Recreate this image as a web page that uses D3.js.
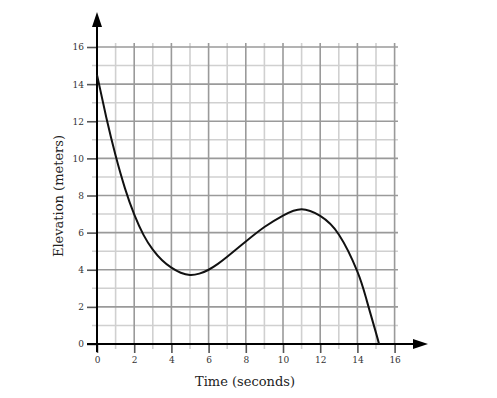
<!DOCTYPE html>
<html>
<head>
<meta charset="utf-8">
<script src="https://cdn.jsdelivr.net/npm/d3@7"></script>
<style>
  body { margin: 0; background: #fff; }
  svg text { font-family: "DejaVu Serif", "Liberation Serif", serif; }
</style>
</head>
<body>
<svg width="497" height="398"></svg>
<script>
// values
var times = [0, 0.5, 1, 1.5, 2, 2.5, 3, 3.5, 4, 4.5, 5, 5.5, 6, 6.5, 7, 8, 9, 10, 11, 12, 13, 14, 14.5, 15, 15.16];
var elevation = [14.5, 12.2, 10.15, 8.4, 6.98, 5.88, 5.08, 4.51, 4.11, 3.84, 3.72, 3.79, 4.0, 4.32, 4.7, 5.52, 6.3, 6.92, 7.26, 6.9, 5.9, 3.9, 2.35, 0.6, 0];
var majorTicks = [0, 2, 4, 6, 8, 10, 12, 14, 16];
var minorTicks = [1, 3, 5, 7, 9, 11, 13, 15];

var svg = d3.select("svg");

var x = d3.scaleLinear().domain([0, 16]).range([97, 394.6]);
var y = d3.scaleLinear().domain([0, 16]).range([344, 47]);

var grid = svg.append("g");

// minor grid
grid.selectAll(".vminor").data(minorTicks).enter().append("line")
  .attr("x1", d => x(d)).attr("x2", d => x(d))
  .attr("y1", 349).attr("y2", 43)
  .attr("stroke", "#d0d0d0").attr("stroke-width", 1.6);
grid.selectAll(".hminor").data(minorTicks).enter().append("line")
  .attr("y1", d => y(d)).attr("y2", d => y(d))
  .attr("x1", 92).attr("x2", 398)
  .attr("stroke", "#d0d0d0").attr("stroke-width", 1.6);

// major grid
grid.selectAll(".vmajor").data(majorTicks.slice(1)).enter().append("line")
  .attr("x1", d => x(d)).attr("x2", d => x(d))
  .attr("y1", 344).attr("y2", 43)
  .attr("stroke", "#9a9a9a").attr("stroke-width", 1.6);
grid.selectAll(".hmajor").data(majorTicks.slice(1)).enter().append("line")
  .attr("y1", d => y(d)).attr("y2", d => y(d))
  .attr("x1", 97).attr("x2", 398)
  .attr("stroke", "#9a9a9a").attr("stroke-width", 1.6);

// axes with tick labels
var xAxis = d3.axisBottom(x).tickValues(majorTicks).tickSize(9).tickPadding(4);
var yAxis = d3.axisLeft(y).tickValues(majorTicks).tickSize(10).tickPadding(3);

var gx = svg.append("g").attr("transform", "translate(0,344)").call(xAxis);
var gy = svg.append("g").attr("transform", "translate(97,0)").call(yAxis);
[gx, gy].forEach(function (g) {
  g.select(".domain").remove();
  g.selectAll(".tick line").attr("stroke", "#555").attr("stroke-width", 1.6);
  g.selectAll(".tick text").attr("fill", "#333")
    .style("font-family", "'DejaVu Serif', serif").style("font-size", "9px");
});

// axis lines with arrows
svg.append("line").attr("x1", 97).attr("x2", 97).attr("y1", 352).attr("y2", 24)
  .attr("stroke", "#000").attr("stroke-width", 2);
svg.append("line").attr("x1", 87).attr("x2", 416).attr("y1", 344).attr("y2", 344)
  .attr("stroke", "#000").attr("stroke-width", 2);
svg.append("path").attr("d", "M97,12 L102,27 L92,27 Z").attr("fill", "#000");
svg.append("path").attr("d", "M428,344 L413,339 L413,349 Z").attr("fill", "#000");

// the curve
var line = d3.line()
  .x((d, i) => x(times[i]))
  .y(d => y(d))
  .curve(d3.curveNatural);

svg.append("path").datum(elevation)
  .attr("d", line)
  .attr("fill", "none")
  .attr("stroke", "#111")
  .attr("stroke-width", 2);

// titles
svg.append("text").attr("x", 245).attr("y", 386)
  .attr("text-anchor", "middle").style("font-size", "13px").attr("fill", "#222")
  .text("Time (seconds)");
svg.append("text").attr("transform", "translate(63,196) rotate(-90)")
  .attr("text-anchor", "middle").style("font-size", "13px").attr("fill", "#222")
  .text("Elevation (meters)");
</script>
</body>
</html>
